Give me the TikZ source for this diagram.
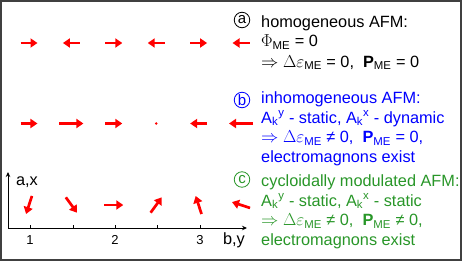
\documentclass[tikz,border=0pt]{standalone}
\usepackage{fontspec}
\setmainfont{Liberation Sans}
\usetikzlibrary{arrows.meta}
\definecolor{verde}{RGB}{40,150,40}

\begin{document}
\begin{tikzpicture}[
  x = 1pt, y = -1pt,
  every node/.style = {font = \fontsize{16.3}{19.5}\selectfont, inner sep = 0pt},
  spin/.style = {red, line width = 2.7pt, -{Triangle[length=7pt,width=9pt]}},
  letra/.style = {circle, draw, line width = 0.8pt, minimum size = 15.5pt,
    font = \fontsize{15}{15}\selectfont},
  eixo/.style = {line width = 0.9pt, {Stealth[length=5pt,width=4.5pt]}-{Stealth[length=5pt,width=4.5pt]}},
  declare function = {
    xs(\n) = 29 + 42.4*(\n-1);
    sb(\n) = 12*cos((\n-2)*45);
    ang(\n) = (\n-3)*54;
  }
]
\useasboundingbox (0,0) rectangle (463,262);
\draw[black!75, line width = 1.3pt] (1,1) rectangle (461,260);

% (a) homogeneo
\draw[spin] ({xs(1)-8.5},43) -- ++(17,0);
\draw[spin] ({xs(2)+8.5},43) -- ++(-17,0);
\draw[spin] ({xs(3)-8.5},43) -- ++(17,0);
\draw[spin] ({xs(4)+8.5},43) -- ++(-17,0);
\draw[spin] ({xs(5)-8.5},43) -- ++(17,0);
\draw[spin] ({xs(6)+8.5},43) -- ++(-17,0);

% (b) onda estacionaria
\draw[spin] ({xs(1)-sb(1)},123.5) -- ({xs(1)+sb(1)},123.5);
\draw[spin] ({xs(2)-sb(2)},123.5) -- ({xs(2)+sb(2)},123.5);
\draw[spin] ({xs(3)-sb(3)},123.5) -- ({xs(3)+sb(3)},123.5);
\fill[red] ({xs(4)},123.5) circle (1.3);
\draw[spin] ({xs(5)-sb(5)},123.5) -- ({xs(5)+sb(5)},123.5);
\draw[spin] ({xs(6)-sb(6)},123.5) -- ({xs(6)+sb(6)},123.5);

% (c) cicloide
\draw[spin] ({xs(1)},205) ++({-ang(1)}:-9.5) -- ++({-ang(1)}:19);
\draw[spin] ({xs(2)},205) ++({-ang(2)}:-9.5) -- ++({-ang(2)}:19);
\draw[spin] ({xs(3)},205) ++({-ang(3)}:-9.5) -- ++({-ang(3)}:19);
\draw[spin] ({xs(4)},205) ++({-ang(4)}:-9.5) -- ++({-ang(4)}:19);
\draw[spin] ({xs(5)},205) ++({-ang(5)}:-9.5) -- ++({-ang(5)}:19);
\draw[spin] ({xs(6)},205) ++({-ang(6)}:-9.5) -- ++({-ang(6)}:19);

% eixos
\coordinate (o) at (8,228);
\coordinate (ex) at (8,172);
\coordinate (ey) at (247,228);
\draw[eixo] (ex) -- (o) -- (ey);
\draw[line width = 0.9pt] (30,228) -- ++(0,-3) (73,228) -- ++(0,-3)
  (115,228) -- ++(0,-3) (157,228) -- ++(0,-3) (200,228) -- ++(0,-3);
\node[font = \fontsize{13}{15}\selectfont] (t1) at (30,240) {1};
\node[font = \fontsize{13}{15}\selectfont] (t2) at (115,240) {2};
\node[font = \fontsize{13}{15}\selectfont] (t3) at (200,240) {3};
\node (ax) at (27,182.5) {a,x};
\node (by) at (234,240.5) {b,y};

% legendas
\node[letra] (ca) at (242,20) {a};
\node[anchor = north west, align = left] (ta) at (261,15)
  {homogeneous AFM:\\
   $\Phi$\textsubscript{ME} = 0\\[1pt]
   $\Rightarrow$ $\Delta\varepsilon$\textsubscript{ME} = 0,\ \ \textbf{P}\textsubscript{ME} = 0};

\node[letra, blue] (cb) at (242,100) {b};
\node[anchor = north west, align = left, blue] (tb) at (261,91.5)
  {inhomogeneous AFM:\\
   A\textsubscript{k}\textsuperscript{y} - static, A\textsubscript{k}\textsuperscript{x} - dynamic\\
   $\Rightarrow$ $\Delta\varepsilon$\textsubscript{ME} ≠ 0,\ \ \textbf{P}\textsubscript{ME} = 0,\\
   electromagnons exist};

\node[letra, verde] (cc) at (242,179.5) {c};
\node[anchor = north west, align = left, verde] (tc) at (261,174.5)
  {cycloidally modulated AFM:\\
   A\textsubscript{k}\textsuperscript{y} - static, A\textsubscript{k}\textsuperscript{x} - static\\
   $\Rightarrow$ $\Delta\varepsilon$\textsubscript{ME} ≠ 0,\ \ \textbf{P}\textsubscript{ME} ≠ 0,\\
   electromagnons exist};

\end{tikzpicture}
\end{document}
